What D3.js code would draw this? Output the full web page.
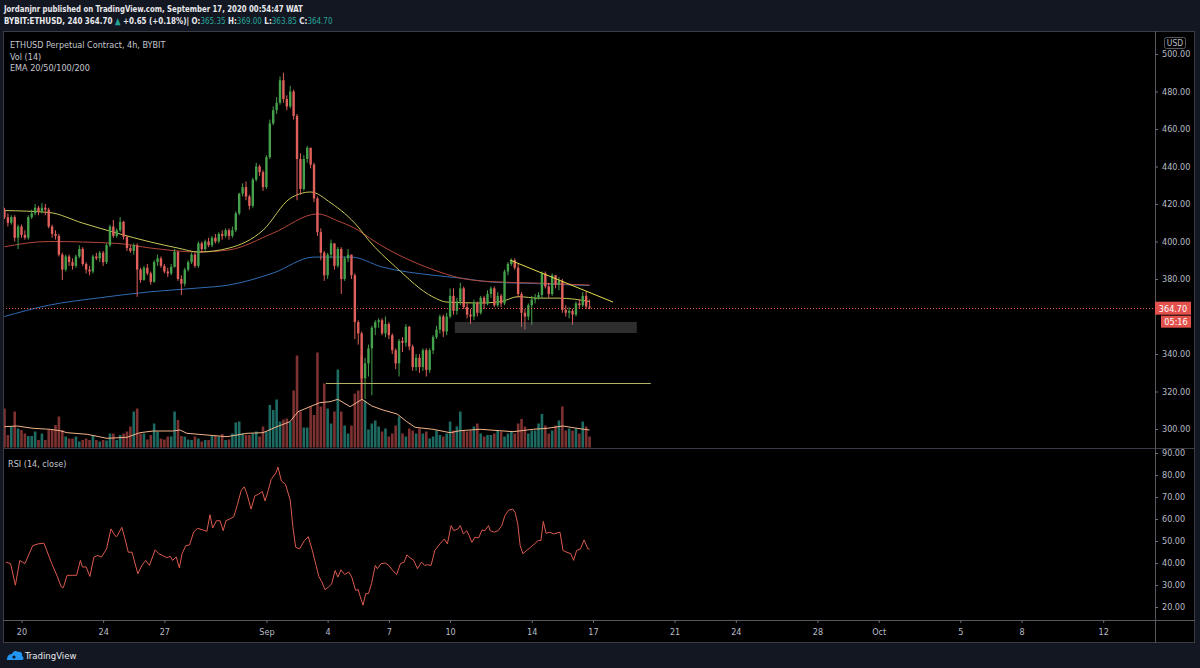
<!DOCTYPE html>
<html><head><meta charset="utf-8">
<script src="https://cdn.jsdelivr.net/npm/d3@7"></script>
<style>
html,body{margin:0;padding:0;background:#131722;}
svg{display:block;}
text{font-family:"Liberation Sans Narrow","DejaVu Sans Condensed","Roboto",sans-serif;}
</style></head><body>
<svg id="chart" width="1200" height="668"></svg>
<script>
// ---------------- DATA ----------------
// 4h candles, first bar Aug 19 2020 04:00, open of each bar = previous close
const firstBarTime = Date.UTC(2020, 7, 19, 4);
const barHours = 4;
const firstOpen = 417;
const closes = [413,410,413,402,408,403.5,402,413,415,418,
416,418,417,408,404,403,393,385,392,389,
387,392,396,388,385,384,392,391,394,389,
398,408,403,406,410.5,402.5,396.5,395,398,385,
379.5,386,383,378.5,389,391,387,384,383,386.5,
394.5,380,377.5,385,389,393,387,399,396,400,
398,402,400,404,403,406,403,406,415,425.5,
429,424,419,433,440,437,429,445,463,470,
474,486,476,472,480,467,444,428,444,450,
441,423,405,394,382,393,399,387,396,380,
391,393,382,357,351,327,335,343,354,357,
358,351,356,350,342,335,347,346,354.5,344,
333,338,333,342,331.5,342,349,353,360,352,
360,371,363,368,375,365,361,360,367,362,
370,367,372,375,366,371,367,384,388,390,
386,372,362,360,366,369,370,371.5,383,376,
372,382,377,379,363.5,362,363,361,367,366,
371,365.35,364.7];
const highs = [418,415,414,414,409,409,406,414,417,420,
419,420.5,420,418,409,406,404,394,393,393,
391,393,398,397,389,387,393,394,395,395,
399,409,411.5,407,413,411,403,398,399,399,
386,387,388,384,390,393,392,388,386,388,
396,395,382,386,390,394,394,400,400,401,
402,403,404,405,406,407,407,408,416,426,
431,432,425,434,442,441,438,446,465,472,
477,488,490,478,483,481,468,447,446,451,
450,442,424,407,395,394,401,399,397,397,
392,396,393,383,358,352,338,345,355,358,
359,359,360,357,351,343,348,349,356,355,
345,340,340,343,343,343,350,355,361,361,
362,375,375,370,378,376,367,364,369,368,
371,371,374,376,376,373,372,385,389,391,
391,388,373,364,367,371,372,373,384,384,
378,383,382,381,380,366,365,364,368,369,
373,373.3,369];
const lows = [412,408,409,400,396,402,401,401,412,414,
414,415,414,407,402,401,392,379.5,384,387,
385,386,391,387,383,382,383,390,389,387,
388,397,402,402,405,401,395,394,393,370.5,
378,379,382,377,378,387,386,383,381,382,
386,379,371.5,376,384,388,386,386,394,395,
397,397,399,399,401,402,401,402,405,414,
424,422,417,418,432,435,427,428,444,462,
468,473,474,470,471,465,422,425,427,442,
439,421,403,390,379,380,391,385,386,372,
379,389,380,348,345,316,316,328,318,350,
354,350,349,348,340,332,328,341,344,342,
331,331,330,331,328,330,340,348,351,349,
350,359,361,361,366,364,359,356,358,360,
361,364,366,370,365,365,365,366,382,387,
385,370,354.5,353,358,355.5,367,369,370,375,
370,371,375,374,362,360,359,355.5,360,364,
365,364,363.85];
const volumes = [78,25,42,72,38,35,28,23,23,32,15,28,15,35,35,45,62,35,22,18,18,
22,12,15,18,15,25,15,12,15,14,28,28,15,25,28,32,42,72,78,28,
28,16,25,48,32,18,16,22,22,72,55,23,22,16,15,22,18,12,15,15,
23,23,22,27,15,16,28,50,52,28,25,25,28,32,
22,42,32,85,75,96,52,56,58,52,114,184,
72,40,40,82,65,190,82,128,78,48,72,156,72,44,28,44,108,114,184,94,
36,48,54,42,32,38,22,28,44,62,28,22,38,34,28,38,28,32,18,
22,34,25,22,28,52,34,42,72,34,32,34,42,48,28,22,25,25,28,34,
32,22,28,32,28,48,57,42,28,34,34,48,67,44,28,34,44,54,82,34,
38,34,38,28,52,42,22];
// indicator readings: [bar index, value]
const volMa = [[0,41.6],[3.7,43],[8.4,38.4],[13.4,36.4],[16.3,33.6],[18.4,29.6],[24.3,26.4],[30.1,18.4],[36,20.4],[39.8,29.6],[43.7,33],[49.5,33],[51.6,35],[53.6,28.4],[59.5,25],[65.4,21.6],[71.3,28.4],[76,29.6],[80.1,41.6],[83.9,51.6],[86.3,71.6],[89.8,81.6],[92.7,89.6],[95.7,91.6],[98,96.4],[101.6,81.6],[105.1,96.4],[108,83],[111.3,75],[115.4,67],[118.3,51.6],[120.7,40.4],[126,36.4],[131,29.6],[133.9,33.6],[139.8,36.4],[145.6,33.6],[149.5,31.6],[155.4,36.4],[159.5,38.4],[164.2,43],[168.3,38.4],[172,35]];
const ema20 = [[0,416.5],[13,415.5],[23,409.8],[33,404.5],[43,399.7],[51,396.5],[57,394.4],[66,396.5],[76,406],[84,423],[90,426.4],[96,420.5],[104,407.7],[107,400.8],[115,386.4],[126,370.4],[130,367.7],[140,367.2],[146,368],[151,370.6],[157,369.8],[163,369.8],[172,368]];
const ema50 = [[0,397.2],[13,400],[33,399],[43,396.5],[57,394.4],[66,395.5],[79,404.5],[92,414.7],[98,411],[104,406],[108,401],[126,385],[134,380.5],[143,378.6],[157,377.8],[172,376.8]];
const ema200 = [[0,360],[13,366],[28,370],[43,373.2],[57,375.2],[66,376.8],[79,383.2],[91,391.7],[102,391.7],[111,386.4],[126,382],[134,380.5],[143,378.4],[157,377.5],[172,376.5]];
const rsi = [[0.4,40.4],[1.8,39.7],[3.2,29.9],[4.5,41.2],[6,39.7],[8.3,47.9],[9.9,48.7],[11.6,49],[13.9,39.7],[15.6,33.6],[16.7,29.1],[17.3,28.8],[18.4,34.4],[20.1,34.4],[21.2,34.4],[22.3,41.2],[22.9,38.2],[24,38.2],[25.1,33.9],[26.3,42.7],[27.4,43.4],[28.5,42.7],[30,46.4],[31.3,55.5],[32.5,52.4],[33,52],[34.5,56.2],[35.3,51.7],[36.4,44.9],[37.5,44.9],[39.2,35.1],[40.4,38.9],[41.5,41.2],[42.6,38.9],[44.3,46],[45.4,44.2],[46.5,43.4],[47.7,42.4],[48.8,43],[49.4,41.2],[50.5,42.7],[51.4,37.8],[52.2,44.2],[53.3,47.9],[54.4,48.2],[55.6,54],[56.7,55.8],[58.4,55],[59.5,54.4],[60.4,61.9],[61.2,55.9],[62.3,59.2],[63.4,59.2],[64.3,54.7],[65.1,59.2],[66.2,60],[67.4,61],[68.5,66.7],[69.6,73],[70.5,74.6],[71.3,71.3],[72.5,64.5],[73.6,70.5],[74.7,71.3],[75.8,72.5],[76.6,68.2],[77.5,72.8],[78.4,78],[79.8,81],[80.4,83.6],[81.4,77.3],[82.6,75.8],[84,68.6],[84.8,56.2],[85.6,47.2],[86.7,46.4],[88.2,50.2],[89.3,52],[90.5,45.7],[91.6,38.9],[92.4,33.9],[93.3,31.4],[94.2,27.9],[95.3,29.1],[96.2,30.6],[97.2,36.6],[98,33.6],[98.9,36.9],[100,34.8],[101.2,35.9],[102.1,33.6],[103.2,27.6],[104,27.9],[104.6,24.6],[105.4,20.8],[106.2,26.1],[107,26.1],[107.9,30.6],[109,38.9],[109.6,37.4],[110.7,39.7],[111.9,40],[113,38.9],[114.1,36.6],[115.3,34.8],[116.4,39.7],[117.5,40.4],[118.3,43.7],[119.2,42.4],[120.3,41.2],[121.4,37.4],[122.6,40.4],[123.5,38.9],[124.3,39.2],[125.4,38.9],[126.5,45.7],[128,48.7],[129.3,50.9],[130.2,48.7],[131.3,57],[132.1,54.7],[133.3,55.5],[134,57],[134.9,53.2],[135.9,54.7],[136.6,52.4],[137.4,49.4],[138.3,51.7],[139.4,51.4],[140.4,55],[141.2,54.7],[142.3,57],[142.8,54.7],[144,54],[145.1,54.7],[146.2,57],[147.1,61.5],[148.2,64],[149.4,64.5],[150.1,63],[150.9,57.7],[151.6,47.9],[152.4,44.2],[153.5,45.7],[154.7,47.2],[155.8,48.7],[156.9,50.2],[157.7,50.2],[158.4,58.9],[159.2,53.5],[160.3,54],[161.4,53.2],[163.3,54],[164.2,45.7],[165.3,44.9],[166.5,44.2],[167.3,41.2],[168.2,45.7],[169.3,46.4],[170.4,50.5],[171.5,46.4],[172,46.3]];
// drawings: [bar, price]
const triangleLine = [[148.6,390.1],[178.9,367.7]];
const supportLine = [[94.5,324.3],[190,324.3]];
const zoneBox = {bars:[132.4,185.9], prices:[357.1,351.2]};
const lastPrice = 364.70;
const countdown = "05:16";
const priceTicks = [300,320,340,380,400,420,440,460,480,500];
const rsiTicks = [20,30,40,50,60,70,80,90];
const timeTickDates = ['2020-08-20','2020-08-24','2020-08-27','2020-09-01','2020-09-04','2020-09-07','2020-09-10','2020-09-14','2020-09-17','2020-09-21','2020-09-24','2020-09-28','2020-10-01','2020-10-05','2020-10-08','2020-10-12'];
const timeTickLabels = ['20','24','27','Sep','4','7','10','14','17','21','24','28','Oct','5','8','12'];
const headerLine1 = 'Jordanjnr published on TradingView.com, September 17, 2020 00:54:47 WAT';
const headerLine2 = [['BYBIT:ETHUSD, 240 364.70 ',0],['▲',1],[' +0.65 (+0.18%)| O:',0],['365.35',1],[' H:',0],['369.00',1],[' L:',0],['363.85',1],[' C:',0],['364.70',1]];

// ---------------- LAYOUT ----------------
const W = 1200, H = 668;
const L = 3, R = 1155, RA = 1195;
const mainTop = 31, mainBot = 448, rsiTop = 449, rsiBot = 620, axBot = 643;
const GREEN = '#45a04c', RED = '#e0605c';
const VGREEN = '#1d6b63', VRED = '#7d3131';
const TXT = '#b8bcc6';
const TEAL = '#26a69a';

const svg = d3.select('#chart');
svg.append('rect').attr('width', W).attr('height', H).attr('fill', '#131722');
svg.append('rect').attr('x', L).attr('y', mainTop).attr('width', RA - L).attr('height', axBot - mainTop).attr('fill', '#000');

const x = d3.scaleUtc()
  .domain([new Date(Date.UTC(2020,7,20)), new Date(Date.UTC(2020,9,12))])
  .range([21.5, 1103.2]);
const bx = i => x(new Date(firstBarTime + i * barHours * 3600e3));
const y = d3.scaleLinear().domain([300, 500]).range([429, 54]);
const yv = d3.scaleLinear().domain([0, 200]).range([447.5, 347.5]);
const yr = d3.scaleLinear().domain([20, 90]).range([607, 453]);

const defs = svg.append('defs');
defs.append('clipPath').attr('id','cm').append('rect').attr('x',L).attr('y',mainTop).attr('width',R-L).attr('height',mainBot-mainTop);
defs.append('clipPath').attr('id','cr').append('rect').attr('x',L).attr('y',rsiTop).attr('width',R-L).attr('height',rsiBot-rsiTop);

const main = svg.append('g').attr('clip-path','url(#cm)');
const opens = closes.map((c,i)=> i===0 ? firstOpen : closes[i-1]);
const bars = closes.map((c,i)=>({i, o:opens[i], h:highs[i], l:lows[i], c, v:volumes[i], up: c >= opens[i]}));

// volume
main.append('g').selectAll('rect').data(bars).join('rect')
  .attr('x', d => bx(d.i) - 1.3).attr('width', 2.6)
  .attr('y', d => yv(d.v)).attr('height', d => yv(0) - yv(d.v))
  .attr('fill', d => d.up ? VGREEN : VRED);
main.append('path').datum(volMa)
  .attr('d', d3.line().x(d=>bx(d[0])).y(d=>yv(d[1])))
  .attr('fill','none').attr('stroke','#f2b48a').attr('stroke-width',1);

// EMAs
const emaLine = d3.line().x(d=>bx(d[0])).y(d=>y(d[1])).curve(d3.curveMonotoneX);
[[ema200,'#2f6cb3'],[ema50,'#b5473a'],[ema20,'#c9c85a']].forEach(([data,col])=>{
  main.append('path').datum(data).attr('d',emaLine).attr('fill','none').attr('stroke',col).attr('stroke-width',1);
});

// candles
const cg = main.append('g');
cg.selectAll('line').data(bars).join('line')
  .attr('x1', d=>bx(d.i)).attr('x2', d=>bx(d.i))
  .attr('y1', d=>y(d.h)).attr('y2', d=>y(d.l))
  .attr('stroke', d=>d.up?GREEN:RED).attr('stroke-width',1);
cg.selectAll('rect').data(bars).join('rect')
  .attr('x', d=>bx(d.i)-1.2).attr('width',2.4)
  .attr('y', d=>y(Math.max(d.o,d.c)))
  .attr('height', d=>Math.max(1, Math.abs(y(d.o)-y(d.c))))
  .attr('fill', d=>d.up?GREEN:RED);

// drawings
main.append('rect')
  .attr('x', bx(zoneBox.bars[0])).attr('width', bx(zoneBox.bars[1]) - bx(zoneBox.bars[0]))
  .attr('y', y(zoneBox.prices[0])).attr('height', y(zoneBox.prices[1]) - y(zoneBox.prices[0]))
  .attr('fill','rgba(110,110,110,0.42)');
main.append('line')
  .attr('x1', bx(supportLine[0][0])).attr('x2', bx(supportLine[1][0]))
  .attr('y1', Math.round(y(supportLine[0][1]))+0.5).attr('y2', Math.round(y(supportLine[1][1]))+0.5)
  .attr('stroke','#b3b26a').attr('stroke-width',1);
main.append('line')
  .attr('x1', bx(triangleLine[0][0])).attr('x2', bx(triangleLine[1][0]))
  .attr('y1', y(triangleLine[0][1])).attr('y2', y(triangleLine[1][1]))
  .attr('stroke','#e6df4e').attr('stroke-width',1);
const ly = Math.round(y(lastPrice))+0.5;
main.append('line').attr('x1',L).attr('x2',R).attr('y1',ly).attr('y2',ly)
  .attr('stroke','#e0644f').attr('stroke-width',1).attr('stroke-dasharray','1,2');

// RSI
svg.append('g').attr('clip-path','url(#cr)').append('path').datum(rsi)
  .attr('d', d3.line().x(d=>bx(d[0])).y(d=>yr(d[1])))
  .attr('fill','none').attr('stroke','#db5a4e').attr('stroke-width',1);

// frame lines
const lc = '#3a3d45';
svg.append('rect').attr('x',L+0.5).attr('y',mainTop+0.5).attr('width',RA-L-1).attr('height',axBot-mainTop-1).attr('fill','none').attr('stroke',lc);
svg.append('line').attr('x1',L).attr('x2',RA).attr('y1',mainBot+0.5).attr('y2',mainBot+0.5).attr('stroke',lc);
svg.append('line').attr('x1',L).attr('x2',RA).attr('y1',rsiBot+0.5).attr('y2',rsiBot+0.5).attr('stroke','#55585f');
svg.append('line').attr('x1',R+0.5).attr('x2',R+0.5).attr('y1',mainTop).attr('y2',axBot).attr('stroke','#55585f');

// axes
function styleAxis(g){
  g.select('.domain').remove();
  g.selectAll('line').attr('stroke','#6a6d75');
  g.selectAll('text').attr('fill',TXT).attr('font-size',9);
}
svg.append('g').attr('transform',`translate(${R},0)`)
  .call(d3.axisRight(y).tickValues(priceTicks).tickFormat(d3.format('.2f')).tickSize(3).tickPadding(4)).call(styleAxis);
svg.append('g').attr('transform',`translate(${R},0)`)
  .call(d3.axisRight(yr).tickValues(rsiTicks).tickFormat(d3.format('.2f')).tickSize(3).tickPadding(4)).call(styleAxis);
svg.append('g').attr('transform',`translate(0,${rsiBot})`)
  .call(d3.axisBottom(x).tickValues(timeTickDates.map(s=>new Date(s+'T00:00:00Z')))
    .tickFormat((d,i)=>timeTickLabels[i]).tickSize(3).tickPadding(6)).call(styleAxis);

// USD box
svg.append('rect').attr('x',1164.5).attr('y',37.5).attr('width',21).attr('height',11).attr('rx',2)
  .attr('fill','none').attr('stroke','#55585f');
svg.append('text').attr('x',1175).attr('y',46).attr('text-anchor','middle').attr('fill',TXT).attr('font-size',8.5).text('USD');

// price label
svg.append('rect').attr('x',R).attr('y',y(lastPrice)-6).attr('width',36).attr('height',13).attr('fill','#e3514d');
svg.append('text').attr('x',R+18).attr('y',y(lastPrice)+4).attr('text-anchor','middle').attr('fill','#fff').attr('font-size',9).text(lastPrice.toFixed(2));
svg.append('rect').attr('x',R+6).attr('y',y(lastPrice)+8).attr('width',30).attr('height',12).attr('fill','#e3514d');
svg.append('text').attr('x',R+21).attr('y',y(lastPrice)+17.5).attr('text-anchor','middle').attr('fill','#fff').attr('font-size',9).text(countdown);

// legends
const leg = svg.append('g').attr('fill','#c4c7ce').attr('font-size',9);
leg.append('text').attr('x',10).attr('y',48).text('ETHUSD Perpetual Contract, 4h, BYBIT');
leg.append('text').attr('x',10).attr('y',60).text('Vol (14)');
leg.append('text').attr('x',10).attr('y',71).text('EMA 20/50/100/200');
leg.append('text').attr('x',8).attr('y',467).text('RSI (14, close)');

// header: condensed horizontally with a group scale to match the narrow UI font
function fitLine(yPos, target, build){
  const g = svg.append('g');
  const t = g.append('text').attr('x',0).attr('y',0).attr('font-size',9.5).attr('font-weight','bold').attr('fill','#e8e9ec');
  build(t);
  const len = t.node().getComputedTextLength();
  g.attr('transform', `translate(4,${yPos}) scale(${target/len},1)`);
}
fitLine(12, 299, t => t.text(headerLine1));
fitLine(24, 329, t => headerLine2.forEach(([s,c]) => {
  const sp = t.append('tspan').text(s);
  if (c) sp.attr('fill', TEAL).attr('font-weight','normal');
}));

// footer logo
const logo = svg.append('g').attr('transform','translate(7,649)');
logo.append('path').attr('d','M0,11 C0,7 2,5 5,5 C6,2 9,1 11,3 C13,2 16,4 15,7 C17,8 17,11 15,11 Z').attr('fill','#2196f3');
logo.append('circle').attr('cx',7).attr('cy',8).attr('r',1.6).attr('fill','#131722');
svg.append('text').attr('x',25).attr('y',659).attr('fill','#e8e9ec').attr('font-size',9.5).text('TradingView');
</script>
</body></html>
